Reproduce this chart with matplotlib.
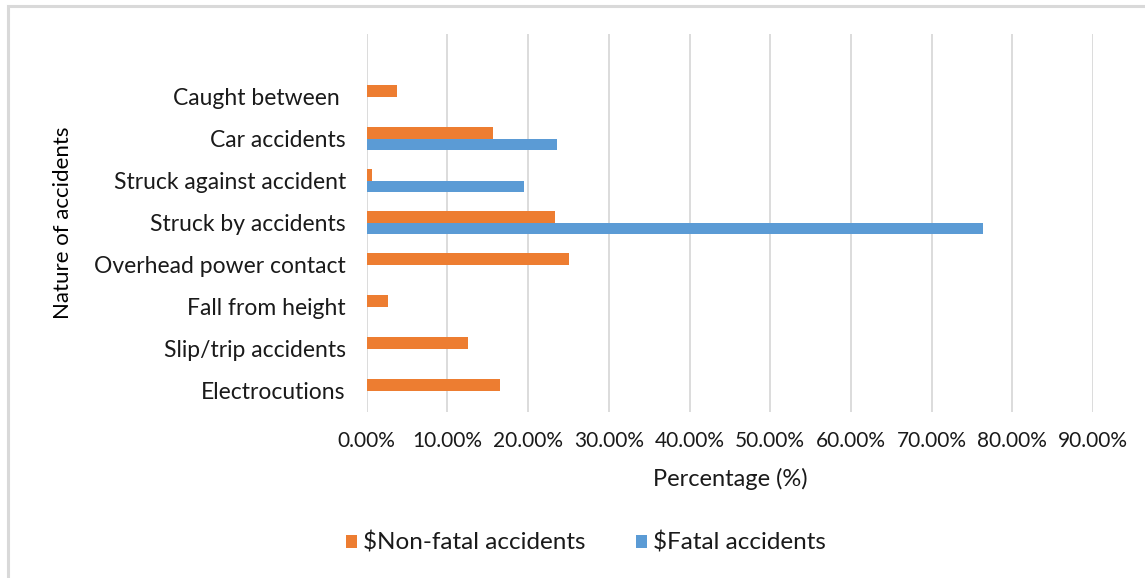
import matplotlib
matplotlib.use("Agg")
import matplotlib.pyplot as plt
import numpy as np
from matplotlib.patches import Rectangle
from matplotlib.ticker import FuncFormatter, MultipleLocator

plt.rcParams['font.family'] = ['Lato', 'DejaVu Sans']

# Categories listed from bottom to top of the chart
categories = [
    "Electrocutions",
    "Slip/trip accidents",
    "Fall from height",
    "Overhead power contact",
    "Struck by accidents",
    "Struck against accident",
    "Car accidents",
    "Caught between ",
]
non_fatal = [16.5, 12.6, 2.6, 25.1, 23.3, 0.7, 15.7, 3.8]
fatal = [0.0, 0.0, 0.0, 0.0, 76.4, 19.5, 23.6, 0.0]

series_names = ["$Non-fatal accidents", "$Fatal accidents"]
orange = "#ED7D31"
blue = "#5B9BD5"
grid_col = "#D9D9D9"
text_col = "#1a1a1a"

fig = plt.figure(figsize=(11.45, 5.78), dpi=100)

# Outer chart frame
fig.patches.append(Rectangle((8 / 1145, -0.05), 1.2, 1 - 6 / 578 + 0.05,
                             transform=fig.transFigure, fill=False,
                             edgecolor="#D9D9D9", linewidth=2.2, zorder=0))

ax = fig.add_axes([366.7 / 1145, 1 - 411.7 / 578,
                   (1093 - 366.7) / 1145, (411.7 - 34) / 578])

y = np.arange(len(categories))
h = 0.275
ax.barh(y + h / 2, non_fatal, height=h, color=orange, label=series_names[0], zorder=3)
ax.barh(y - h / 2, fatal, height=h, color=blue, label=series_names[1], zorder=3)

ax.set_xlim(0, 90)
ax.set_ylim(-0.5, 8.5)
ax.xaxis.set_major_locator(MultipleLocator(10))
ax.xaxis.set_major_formatter(FuncFormatter(lambda v, p: f"{v:.2f}%"))
ax.grid(axis="x", color=grid_col, linewidth=1.3, zorder=0)
ax.set_axisbelow(True)
for s in ax.spines.values():
    s.set_visible(False)

ax.set_yticks(y)
ax.set_yticklabels(categories, fontsize=16.5, color=text_col)
ax.tick_params(axis="y", length=0, pad=15)
ax.tick_params(axis="x", length=0, pad=14, labelsize=15, labelcolor=text_col)

ax.set_xlabel("Percentage (%)", fontsize=17, color=text_col, labelpad=12)
ax.set_ylabel("Nature of accidents", fontsize=16, color="black")
ax.yaxis.set_label_coords(-0.404, 0.5, transform=ax.transAxes)

handles, labels = ax.get_legend_handles_labels()
fig.legend(handles, labels, loc="center", bbox_to_anchor=(586 / 1145, 1 - 543 / 578),
           ncol=2, frameon=False, fontsize=17.5, handlelength=0.45, handleheight=0.45,
           handletextpad=0.25, columnspacing=2.1, labelcolor=text_col)

fig.savefig("out.png", dpi=100, facecolor="white")
